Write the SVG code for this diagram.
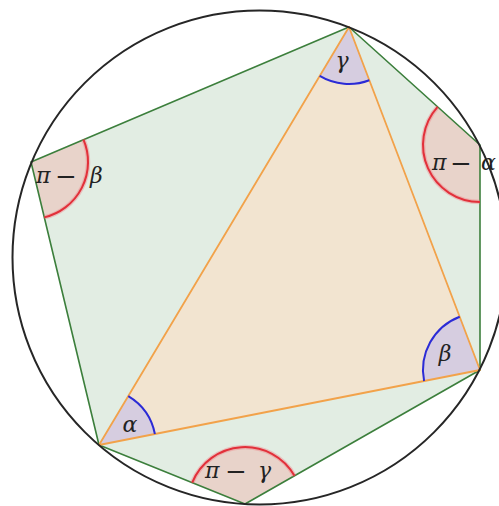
<svg xmlns="http://www.w3.org/2000/svg" width="499" height="506" viewBox="0 0 499 506">
<style>
.hex{fill:#e2ede3;stroke:none}
.tri{fill:#f2e4d0;stroke:none}
.wt{fill:#d6cde0;stroke:none}
.wh{fill:#e8d3ca;stroke:none}
.arcb{fill:none;stroke:#2b2bd6;stroke-width:2}
.arcr{fill:none;stroke:#e2303a;stroke-width:2}
.arcrg{fill:none;stroke:#f07078;stroke-width:4.5;stroke-opacity:0.35}
.gl{fill:none;stroke:#3c7f3c;stroke-width:1.6;stroke-linejoin:round}
.ol{fill:none;stroke:#f2a24a;stroke-width:1.8;stroke-linejoin:round}
.circ{fill:none;stroke:#262626;stroke-width:2}
.m{font-family:"DejaVu Serif","Liberation Serif",serif;font-style:italic;font-size:22px;fill:#222}
.op{font-family:"DejaVu Serif","Liberation Serif",serif;font-style:normal;font-size:26px;fill:#222}
</style>
<rect width="499" height="506" fill="#ffffff"/>
<g id="fills">
<polygon class="hex" points="349,27 480,145 480,370 245,504 99,445 31,162"/>
<polygon class="tri" points="349,27 480,370 99,445"/>
</g>
<g id="wedges">
<path class="wt" d="M99,445 L154.9,434 A57,57 0 0 0 128.3,396.1 Z"/>
<path class="wt" d="M480,370 L424.1,381 A57,57 0 0 1 459.7,316.7 Z"/>
<path class="wt" d="M349,27 L319.7,75.9 A57,57 0 0 0 369.3,80.2 Z"/>
<path class="wh" d="M31,162 L83.5,139.7 A57,57 0 0 1 44.3,217.4 Z"/>
<path class="wh" d="M480,145 L480,202 A57,57 0 0 1 437.6,106.9 Z"/>
<path class="wh" d="M245,504 L192.2,482.6 A57,57 0 0 1 294.5,475.8 Z"/>
</g>
<g id="connectors">
<polygon class="gl" points="349,27 480,145 480,370 245,504 99,445 31,162"/>
<polygon class="ol" points="349,27 480,370 99,445"/>
</g>
<g id="arcs">
<path class="arcb" d="M154.9,434 A57,57 0 0 0 128.3,396.1"/>
<path class="arcb" d="M424.1,381 A57,57 0 0 1 459.7,316.7"/>
<path class="arcb" d="M319.7,75.9 A57,57 0 0 0 369.3,80.2"/>
<path class="arcrg" d="M83.5,139.7 A57,57 0 0 1 44.3,217.4"/>
<path class="arcrg" d="M480,202 A57,57 0 0 1 437.6,106.9"/>
<path class="arcrg" d="M192.2,482.6 A57,57 0 0 1 294.5,475.8"/>
<path class="arcr" d="M83.5,139.7 A57,57 0 0 1 44.3,217.4"/>
<path class="arcr" d="M480,202 A57,57 0 0 1 437.6,106.9"/>
<path class="arcr" d="M192.2,482.6 A57,57 0 0 1 294.5,475.8"/>
</g>
<circle id="circumcircle" class="circ" cx="259.5" cy="257.5" r="247"/>
<g id="labels">
<text class="m" x="342" y="68" text-anchor="middle">γ</text>
<text class="m" x="445" y="361" text-anchor="middle">β</text>
<text class="m" x="130" y="432" text-anchor="middle">α</text>
<text id="label-F"><tspan class="m" x="36" y="183">π</tspan><tspan class="op" x="55" y="185">−</tspan><tspan class="m" x="90" y="183">β</tspan></text>
<text id="label-D"><tspan class="m" x="432" y="170">π</tspan><tspan class="op" x="450" y="172">−</tspan><tspan class="m" x="481" y="170">α</tspan></text>
<text id="label-E"><tspan class="m" x="205" y="478">π</tspan><tspan class="op" x="225" y="480">−</tspan><tspan class="m" x="258" y="478">γ</tspan></text>
</g>
</svg>
